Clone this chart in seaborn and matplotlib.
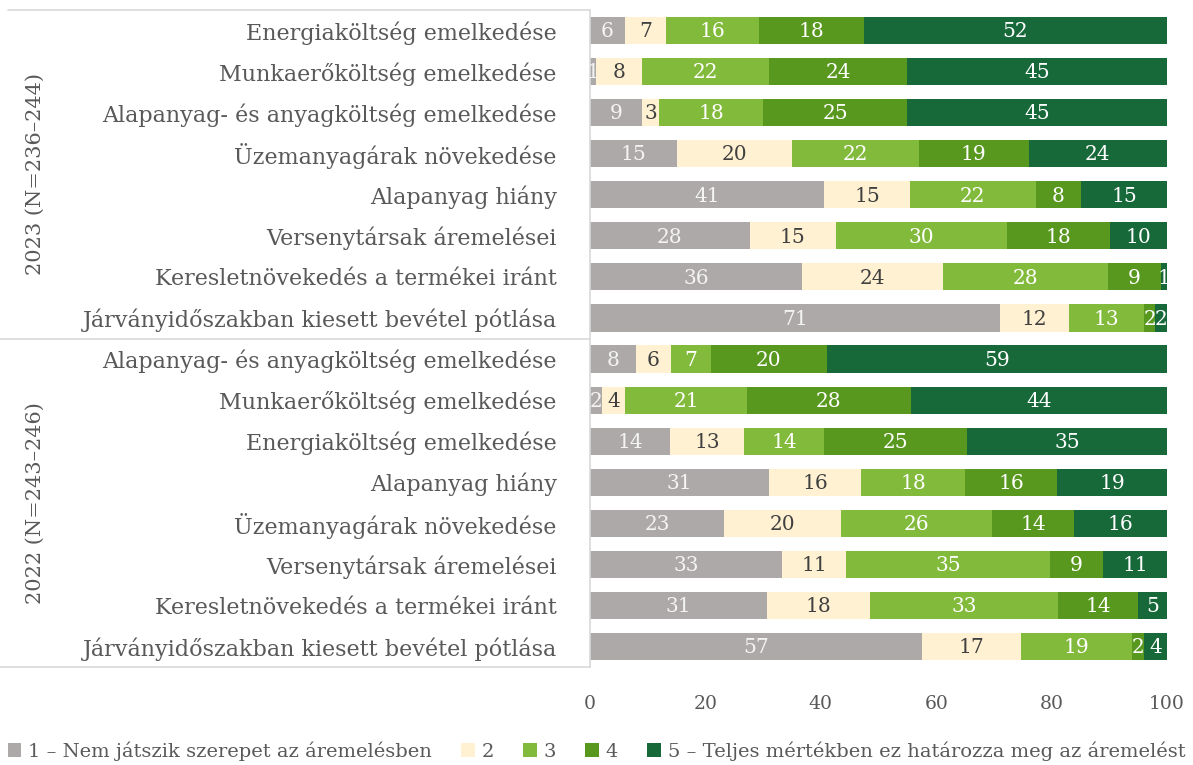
import numpy as np
import pandas as pd
import seaborn as sns
import matplotlib.pyplot as plt
from matplotlib import transforms
from matplotlib.patches import Patch

# ---- data ----
categories = [
    "Energiaköltség emelkedése",
    "Munkaerőköltség emelkedése",
    "Alapanyag- és anyagköltség emelkedése",
    "Üzemanyagárak növekedése",
    "Alapanyag hiány",
    "Versenytársak áremelései",
    "Keresletnövekedés a termékei iránt",
    "Járványidőszakban kiesett bevétel pótlása",
    "Alapanyag- és anyagköltség emelkedése",
    "Munkaerőköltség emelkedése",
    "Energiaköltség emelkedése",
    "Alapanyag hiány",
    "Üzemanyagárak növekedése",
    "Versenytársak áremelései",
    "Keresletnövekedés a termékei iránt",
    "Járványidőszakban kiesett bevétel pótlása",
]
groups = ["2023 (N=236–244)", "2022 (N=243–246)"]
level1 = [6, 1, 9, 15, 41, 28, 36, 71, 8, 2, 14, 31, 23, 33, 31, 57]
level2 = [7, 8, 3, 20, 15, 15, 24, 12, 6, 4, 13, 16, 20, 11, 18, 17]
level3 = [16, 22, 18, 22, 22, 30, 28, 13, 7, 21, 14, 18, 26, 35, 33, 19]
level4 = [18, 24, 25, 19, 8, 18, 9, 2, 20, 28, 25, 16, 14, 9, 14, 2]
level5 = [52, 45, 45, 24, 15, 10, 1, 2, 59, 44, 35, 19, 16, 11, 5, 4]
legend_labels = [
    "1 – Nem játszik szerepet az áremelésben",
    "2",
    "3",
    "4",
    "5 – Teljes mértékben ez határozza meg az áremelést",
]
xticks = [0, 20, 40, 60, 80, 100]

colors = ["#ADA9A8", "#FFF1D1", "#82BA3B", "#58981E", "#17693A"]
label_colors = ["#F4F4F4", "#404040", "white", "white", "white"]

# ---- style ----
sns.set_theme(style="white")
plt.rcParams["font.family"] = ["DejaVu Serif"]
text_color = "#595959"

W, H = 1193, 765
fig = plt.figure(figsize=(W / 100, H / 100), dpi=100)
ax = fig.add_axes([590 / W, 1 - 667 / H, 577 / W, 657 / H])

levels = np.array([level1, level2, level3, level4, level5], dtype=float)
totals = levels.sum(axis=0)
pct = levels / totals * 100
cum = np.cumsum(pct, axis=0)

rows = [str(i) for i in range(len(categories))]
df = pd.DataFrame({"row": rows})
for k in range(5):
    df[f"cum{k}"] = cum[k]

for k in reversed(range(5)):
    sns.barplot(data=df, x=f"cum{k}", y="row", order=rows, orient="h",
                color=colors[k], saturation=1, width=0.66, linewidth=0, ax=ax)

# value labels
for k in range(5):
    for i in range(len(categories)):
        start = cum[k - 1][i] if k > 0 else 0
        center = start + pct[k][i] / 2
        ax.text(center, i + 0.03, str(int(levels[k][i])), ha="center", va="center",
                fontsize=14.5, color=label_colors[k])

ax.set_xlim(0, 100)
ax.set_ylim(len(categories) - 0.5, -0.5)
ax.set_xticks(xticks)
ax.set_xticklabels([str(t) for t in xticks], fontsize=13.5, color=text_color)
ax.set_yticks(range(len(categories)))
ax.set_yticklabels(categories, fontsize=16, color=text_color)
ax.set_xlabel("")
ax.set_ylabel("")
ax.tick_params(axis="y", length=0, pad=24)
ax.tick_params(axis="x", length=0, pad=20)
for side in ["top", "right", "bottom"]:
    ax.spines[side].set_visible(False)
ax.spines["left"].set_color("#D9D9D9")
ax.spines["left"].set_linewidth(1.2)

# group separators
trans = transforms.blended_transform_factory(fig.transFigure, ax.transData)
for y, x0 in [(-0.5, 8 / W), (7.5, 0.0), (15.5, 0.0)]:
    ax.plot([x0, 590 / W], [y, y], transform=trans, color="#D9D9D9",
            lw=1.2, clip_on=False)
for g, yc in zip(groups, [3.5, 11.5]):
    ax.text(35 / W, yc, g, transform=trans, rotation=90, ha="center",
            va="center", fontsize=15, color=text_color)

handles = [Patch(facecolor=c, edgecolor="none") for c in colors]
fig.legend(handles, legend_labels, loc="center", bbox_to_anchor=(0.5, 1 - 751 / H),
           ncol=5, frameon=False, fontsize=14, handlelength=0.7, handleheight=0.7,
           handletextpad=0.35, columnspacing=1.5, labelcolor=text_color)

fig.savefig("out.png", dpi=100)
